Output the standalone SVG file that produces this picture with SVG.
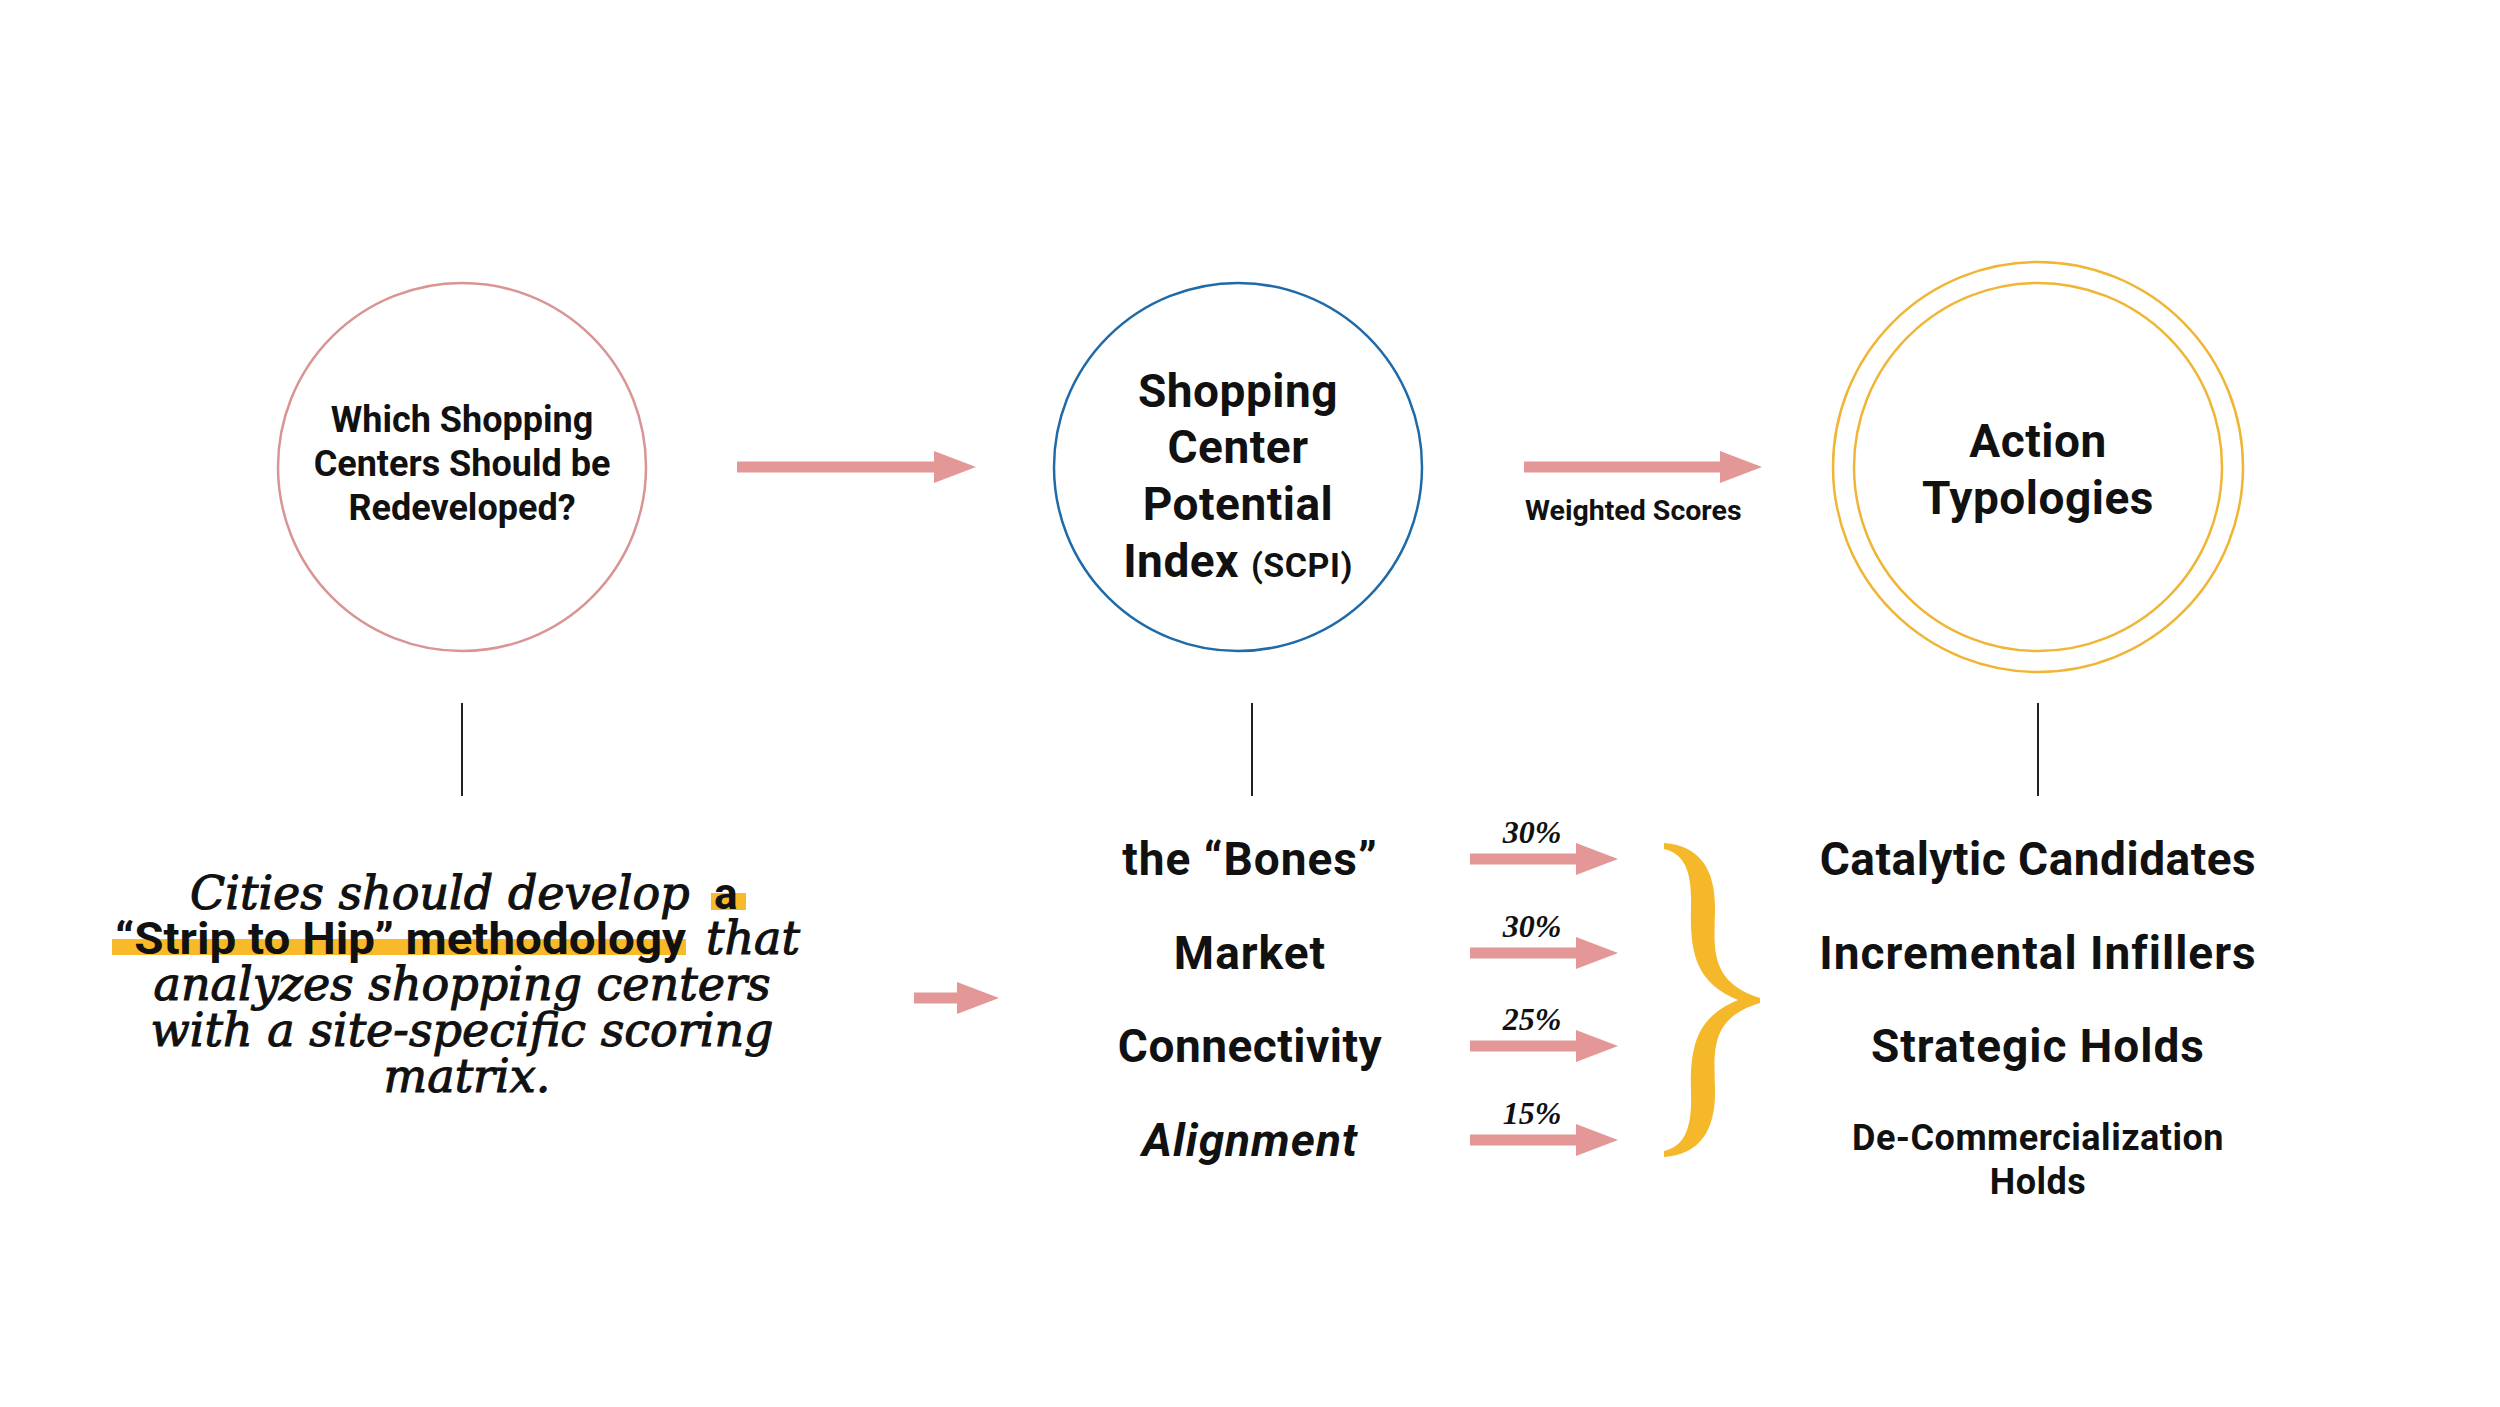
<svg xmlns="http://www.w3.org/2000/svg" width="2500" height="1407" viewBox="0 0 2500 1407">
<style>
.sans{font-family:Roboto,"Liberation Sans",sans-serif;font-weight:700;fill:#111}
.ser{font-family:"DejaVu Serif","Liberation Serif",serif;font-style:italic;fill:#111;stroke:#111;stroke-width:1.1}
.pct{font-family:"Liberation Serif",serif;font-style:italic;font-weight:700;fill:#111}
.arr{stroke:#e39797;stroke-width:11;fill:none}
.vl{stroke:#222;stroke-width:2}
</style>
<defs>
<marker id="ah" markerUnits="userSpaceOnUse" markerWidth="44" markerHeight="34" refX="0" refY="16" orient="auto" overflow="visible">
<path d="M0,0 L42,16 L0,32 Z" fill="#e39797"/>
</marker>
</defs>
<rect width="2500" height="1407" fill="#fff"/>

<g id="node-question">
<circle cx="462" cy="467" r="184" fill="none" stroke="#d99494" stroke-width="2.5"/>
<text class="sans" font-size="36" text-anchor="middle" x="462" y="432">Which Shopping</text>
<text class="sans" font-size="36" text-anchor="middle" x="462" y="476">Centers Should be</text>
<text class="sans" font-size="36" text-anchor="middle" x="462" y="520">Redeveloped?</text>
</g>

<g id="node-scpi">
<circle cx="1238" cy="467" r="184" fill="none" stroke="#1f6aa8" stroke-width="2.5"/>
<text class="sans" font-size="46" text-anchor="middle" x="1238" y="407" letter-spacing="0.5">Shopping</text>
<text class="sans" font-size="46" text-anchor="middle" x="1238" y="463" letter-spacing="0.5">Center</text>
<text class="sans" font-size="46" text-anchor="middle" x="1238" y="520" letter-spacing="0.5">Potential</text>
<text class="sans" font-size="46" text-anchor="middle" x="1238" y="577" letter-spacing="0.5">Index <tspan font-size="34">(SCPI)</tspan></text>
</g>

<g id="node-action">
<circle cx="2038" cy="467" r="205" fill="none" stroke="#f0b535" stroke-width="2.5"/>
<circle cx="2038" cy="467" r="184" fill="none" stroke="#f0b535" stroke-width="2.5"/>
<text class="sans" font-size="46" text-anchor="middle" x="2038" y="457" letter-spacing="0.5">Action</text>
<text class="sans" font-size="46" text-anchor="middle" x="2038" y="514" letter-spacing="0.5">Typologies</text>
</g>

<g id="node-statement">
<rect x="711" y="893" width="35" height="17" fill="#f8b92a"/>
<rect x="112" y="939" width="574" height="16" fill="#f8b92a"/>
<text class="ser" font-size="46" x="190" y="909">Cities should develop</text>
<text class="sans" font-size="44" x="714" y="909">a</text>
<text class="sans" font-size="44" x="115" y="954" textLength="571" lengthAdjust="spacingAndGlyphs">“Strip to Hip” methodology</text>
<text class="ser" font-size="46" x="800" y="954" text-anchor="end">that</text>
<text class="ser" font-size="46" x="462" y="1000" text-anchor="middle">analyzes shopping centers</text>
<text class="ser" font-size="46" x="462" y="1046" text-anchor="middle">with a site-specific scoring</text>
<text class="ser" font-size="46" x="467" y="1092" text-anchor="middle">matrix.</text>
</g>

<g id="node-criteria">
<text class="sans" font-size="46" text-anchor="middle" x="1250" y="875" letter-spacing="1">the “Bones”</text>
<text class="sans" font-size="46" text-anchor="middle" x="1250" y="969" letter-spacing="1">Market</text>
<text class="sans" font-size="46" text-anchor="middle" x="1250" y="1062" letter-spacing="0.5">Connectivity</text>
<text class="sans" font-size="46" text-anchor="middle" font-style="italic" x="1250" y="1156" letter-spacing="1">Alignment</text>
</g>

<g id="node-weights">
<text class="pct" font-size="32" text-anchor="middle" x="1532" y="843">30%</text>
<text class="pct" font-size="32" text-anchor="middle" x="1532" y="937">30%</text>
<text class="pct" font-size="32" text-anchor="middle" x="1532" y="1030">25%</text>
<text class="pct" font-size="32" text-anchor="middle" x="1532" y="1124">15%</text>
</g>

<g id="node-typologies">
<text class="sans" font-size="46" text-anchor="middle" x="2038" y="875" letter-spacing="0.5">Catalytic Candidates</text>
<text class="sans" font-size="46" text-anchor="middle" x="2038" y="969" letter-spacing="1">Incremental Infillers</text>
<text class="sans" font-size="46" text-anchor="middle" x="2038" y="1062" letter-spacing="1">Strategic Holds</text>
<text class="sans" font-size="36" text-anchor="middle" x="2038" y="1150" letter-spacing="0.5">De-Commercialization</text>
<text class="sans" font-size="36" text-anchor="middle" x="2038" y="1194" letter-spacing="0.5">Holds</text>
</g>

<g id="brace">
<path d="M1664,843 C1702,846 1716,872 1715,912 C1714,950 1710,982 1760,998 L1760,1003 C1710,1018 1714,1050 1715,1088 C1716,1128 1702,1154 1664,1157 L1664,1151 C1686,1146 1692,1126 1691,1093 C1690,1050 1694,1018 1738,1000 C1694,982 1690,950 1691,907 C1692,874 1686,854 1664,849 Z" fill="#f5b82a"/>
</g>

<g id="connectors">
<line class="arr" x1="737" y1="467" x2="934" y2="467" marker-end="url(#ah)"/>
<line class="arr" x1="1524" y1="467" x2="1720" y2="467" marker-end="url(#ah)"/>
<text class="sans" font-size="28.5" x="1525" y="520">Weighted Scores</text>
<line class="vl" x1="462" y1="703" x2="462" y2="796"/>
<line class="vl" x1="1252" y1="703" x2="1252" y2="796"/>
<line class="vl" x1="2038" y1="703" x2="2038" y2="796"/>
<line class="arr" x1="914" y1="998" x2="957" y2="998" marker-end="url(#ah)"/>
<line class="arr" x1="1470" y1="859" x2="1576" y2="859" marker-end="url(#ah)"/>
<line class="arr" x1="1470" y1="953" x2="1576" y2="953" marker-end="url(#ah)"/>
<line class="arr" x1="1470" y1="1046" x2="1576" y2="1046" marker-end="url(#ah)"/>
<line class="arr" x1="1470" y1="1140" x2="1576" y2="1140" marker-end="url(#ah)"/>
</g>
</svg>
